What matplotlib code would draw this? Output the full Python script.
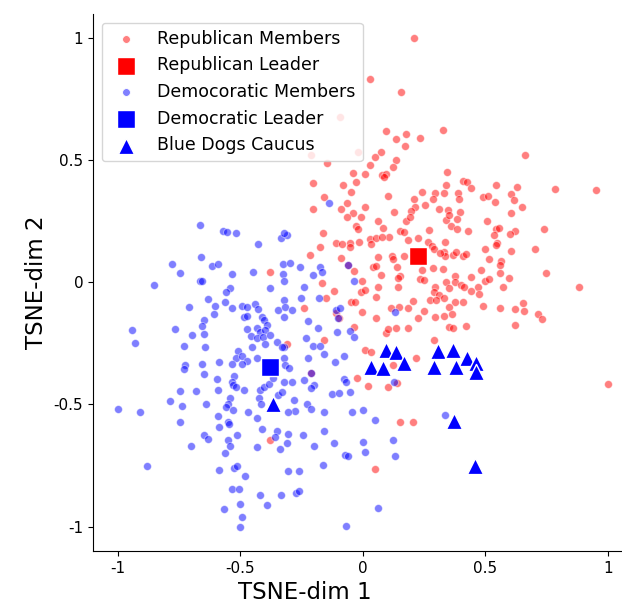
import matplotlib
matplotlib.use("Agg")
import matplotlib.pyplot as plt
import numpy as np

rep_pts = [
    (0.21,1.0),(0.03,0.83),(0.156,0.777),(-0.094,0.675),(0.094,0.618),(0.176,0.605),(0.135,0.585),(0.234,0.589),
    (0.328,0.622),(0.172,0.556),(0.074,0.53),(-0.02,0.53),(-0.21,0.52),(0.664,0.52),
    (0.049,0.511),(0.135,0.499),(-0.148,0.487),(0.029,0.478),(0.123,0.47),(0.344,0.45),(-0.041,0.446),(0.008,0.442),
    (0.078,0.438),(0.094,0.442),(0.086,0.43),(-0.205,0.405),(-0.082,0.397),(-0.029,0.409),(0.34,0.397),(-0.049,0.368),
    (-0.16,0.348),(0.102,0.352),(0.242,0.368),(0.295,0.364),(0.332,0.364),(-0.066,0.323),(-0.09,0.299),(-0.205,0.299),
    (0.008,0.307),(0.209,0.34),(0.287,0.34),(0.213,0.307),(0.197,0.29),(0.254,0.315),(0.311,0.299),(0.348,0.294),
    (-0.041,0.282),(-0.066,0.266),(-0.008,0.266),(0.127,0.286),(0.061,0.25),(0.176,0.25),(0.193,0.266),(0.34,0.254),
    (-0.029,0.229),(-0.02,0.217),(0.082,0.221),(0.27,0.213),(-0.164,0.2),(0.152,0.209),(0.168,0.205),(0.107,0.184),
    (0.225,0.18),(0.184,0.172),(0.336,0.164),(0.266,0.164),(0.029,0.176),(0.053,0.18),(0.078,0.184),(-0.016,0.164),
    (-0.111,0.16),(-0.086,0.155),(-0.053,0.16),(-0.053,0.143),(0.033,0.155),(-0.176,0.143),(0.283,0.147),(0.291,0.135),
    (0.332,0.123),(0.336,0.106),(0.316,0.119),(0.168,0.106),(0.119,0.106),(0.123,0.094),(0.061,0.102),(-0.217,0.11),
    (-0.09,0.098),(0.139,0.061),(0.041,0.061),(0.053,0.065),(-0.037,0.045),(0.074,0.029),(0.242,0.049),(0.287,0.057),
    (0.328,0.053),(0.152,0.025),(0.143,0.016),(0.234,0.012),(0.25,0.008),(-0.004,0.004),(-0.168,-0.004),(0.061,-0.02),
    (0.143,-0.02),(0.295,-0.02),(0.34,0.0),(-0.061,0.07),
    (0.41,0.413),(0.426,0.409),(0.443,0.384),(0.545,0.397),(0.631,0.389),(0.783,0.38),(0.951,0.376),(0.389,0.364),
    (0.393,0.34),(0.492,0.348),(0.512,0.352),(0.541,0.327),(0.607,0.36),(0.619,0.335),(0.648,0.307),(0.607,0.282),
    (0.398,0.286),(0.352,0.274),(0.361,0.229),(0.385,0.258),(0.508,0.25),(0.385,0.217),(0.43,0.209),(0.545,0.217),
    (0.557,0.221),(0.537,0.192),(0.623,0.209),(0.602,0.196),(0.738,0.217),(0.549,0.16),(0.545,0.151),(0.705,0.135),
    (0.5,0.135),(0.607,0.127),(0.369,0.11),(0.381,0.123),(0.41,0.106),(0.422,0.115),(0.516,0.094),(0.566,0.086),
    (0.561,0.07),(0.484,0.049),(0.561,0.037),(0.746,0.037),(0.598,0.016),(0.443,0.02),(0.377,0.025),(0.377,0.0),
    (0.5,0.004),(0.516,0.012),(0.402,-0.012),(0.414,-0.02),(0.471,-0.02),(0.574,-0.02),(0.881,-0.02),
    (0.352,-0.025),(0.443,-0.037),(0.475,-0.049),(0.377,-0.082),(0.41,-0.082),(0.492,-0.098),(0.561,-0.106),
    (0.656,-0.086),(0.66,-0.119),(0.623,-0.11),(0.717,-0.131),(0.73,-0.151),(0.352,-0.102),(0.365,-0.131),
    (0.352,-0.184),(0.369,-0.188),(0.422,-0.18),(0.623,-0.176),(1.0,-0.417),
    (-0.119,-0.037),(-0.008,-0.041),(0.008,-0.033),(0.053,-0.061),(-0.152,-0.065),(-0.049,-0.082),(-0.033,-0.082),
    (-0.242,-0.106),(-0.004,-0.123),(0.115,-0.106),(0.148,-0.102),(0.184,-0.106),(0.205,-0.078),(0.291,-0.041),
    (0.311,-0.053),(0.275,-0.074),(0.299,-0.074),(0.332,-0.065),(0.25,-0.119),(0.225,-0.147),(0.295,-0.143),
    (0.332,-0.139),(0.053,-0.147),(-0.111,-0.127),(-0.098,-0.147),(-0.037,-0.184),(0.094,-0.209),(0.102,-0.192),
    (0.135,-0.188),(0.184,-0.188),(0.291,-0.237),(-0.16,-0.237),(-0.311,-0.254),(0.008,-0.278),(0.033,-0.286),
    (0.217,-0.311),(0.123,-0.339),(-0.025,-0.393),(0.02,-0.425),(0.102,-0.429),(0.139,-0.413),(0.152,-0.573),
    (0.205,-0.573),(-0.213,-0.372),(-0.381,0.041),(-0.381,-0.646),(0.049,-0.765),
]
rep_x = [p[0] for p in rep_pts]
rep_y = [p[1] for p in rep_pts]

dem_pts = [
    (-0.139,0.323),(-0.336,0.18),(-0.311,0.192),(-0.324,0.2),(-0.328,0.074),(-0.299,0.078),(-0.258,0.061),
    (-0.176,0.061),(-0.168,0.041),(-0.205,0.029),(-0.061,0.07),(-0.328,0.033),(-0.324,0.004),(-0.242,-0.02),(-0.037,0.004),
    (-0.664,0.233),(-0.57,0.209),(-0.553,0.205),(-0.52,0.2),(-0.43,0.155),(-0.779,0.074),(-0.66,0.102),(-0.615,0.065),
    (-0.59,0.074),(-0.746,0.037),(-0.533,0.033),(-0.447,0.041),(-0.664,0.004),(-0.656,0.004),
    (-0.852,-0.012),(-0.541,-0.025),(-0.557,-0.041),(-0.381,-0.025),(-0.631,-0.07),(-0.709,-0.102),(-0.602,-0.098),
    (-0.607,-0.131),(-0.561,-0.082),(-0.533,-0.106),(-0.492,-0.098),(-0.475,-0.102),(-0.439,-0.09),(-0.43,-0.11),
    (-0.484,-0.143),(-0.475,-0.139),(-0.41,-0.143),(-0.402,-0.155),(-0.393,-0.176),(-0.648,-0.155),(-0.656,-0.18),
    (-0.648,-0.213),(-0.943,-0.196),(-0.766,-0.192),(-0.475,-0.192),(-0.434,-0.188),(-0.418,-0.205),(-0.398,-0.196),
    (-0.697,-0.217),(-0.455,-0.221),(-0.434,-0.229),(-0.406,-0.225),(-0.381,-0.217),(-0.93,-0.249),(-0.73,-0.262),
    (-0.643,-0.266),(-0.451,-0.266),(-0.398,-0.254),(-0.508,-0.282),(-0.434,-0.311),(-0.516,-0.311),(-0.492,-0.303),
    (-0.475,-0.323),(-0.492,-0.335),(-0.586,-0.327),(-0.533,-0.335),(-0.656,-0.335),(-0.725,-0.339),(-0.73,-0.356),
    (-0.648,-0.376),(-0.525,-0.384),(-0.594,-0.397),(-0.533,-0.409),(-0.529,-0.421),(-0.746,-0.446),(-0.68,-0.446),
    (-0.59,-0.442),(-0.516,-0.429),(-0.484,-0.442),(-0.418,-0.442),(-0.402,-0.429),(-0.385,-0.417),(-0.787,-0.487),
    (-0.639,-0.499),(-0.541,-0.474),(-0.549,-0.499),(-0.557,-0.511),(-0.738,-0.507),(-0.426,-0.474),(-0.414,-0.499),
    (-1.0,-0.519),(-0.91,-0.532),(-0.529,-0.524),(-0.467,-0.532),(-0.59,-0.548),(-0.434,-0.556),(-0.746,-0.573),
    (-0.549,-0.573),
    (-0.324,-0.074),(-0.254,-0.065),(-0.18,-0.065),(-0.348,-0.115),(-0.316,-0.102),(-0.291,-0.115),(-0.32,-0.143),
    (-0.111,-0.115),(-0.094,-0.106),(-0.102,-0.147),(-0.225,-0.16),(0.131,-0.123),(-0.184,-0.188),(-0.053,-0.2),
    (-0.037,-0.225),(-0.352,-0.245),(-0.324,-0.266),(-0.332,-0.266),(-0.234,-0.229),(-0.205,-0.262),(-0.176,-0.262),
    (-0.107,-0.205),(-0.16,-0.294),(-0.225,-0.311),(-0.078,-0.303),(-0.115,-0.327),(-0.324,-0.311),(-0.316,-0.339),
    (-0.303,-0.352),(-0.377,-0.368),(-0.365,-0.393),(-0.324,-0.409),(-0.291,-0.409),(-0.213,-0.372),(-0.242,-0.401),
    (-0.078,-0.397),(-0.07,-0.409),(-0.201,-0.421),(-0.213,-0.434),(-0.053,-0.45),(-0.127,-0.458),(-0.098,-0.454),
    (0.127,-0.409),(-0.283,-0.483),(-0.348,-0.462),(-0.332,-0.45),(-0.23,-0.499),(-0.213,-0.519),(-0.279,-0.528),
    (-0.307,-0.532),(-0.16,-0.532),(-0.045,-0.532),(0.0,-0.524),(0.049,-0.564),(0.336,-0.544),
    (-0.586,-0.593),(-0.545,-0.581),(-0.41,-0.601),(-0.648,-0.626),(-0.631,-0.642),(-0.512,-0.626),(-0.549,-0.646),
    (-0.541,-0.671),(-0.701,-0.671),(-0.434,-0.675),(-0.561,-0.699),(-0.881,-0.753),(-0.586,-0.769),(-0.525,-0.761),
    (-0.512,-0.753),(-0.48,-0.793),(-0.533,-0.847),(-0.504,-0.847),(-0.422,-0.871),(-0.393,-0.912),(-0.5,-0.908),
    (-0.566,-0.928),(-0.492,-0.961),(-0.5,-1.002),
    (-0.352,-0.609),(-0.357,-0.634),(-0.307,-0.622),(-0.311,-0.658),(-0.34,-0.683),(-0.246,-0.626),(-0.16,-0.609),
    (-0.201,-0.671),(-0.119,-0.658),(0.0,-0.654),(0.008,-0.695),(0.123,-0.646),(0.131,-0.712),(-0.074,-0.708),
    (-0.061,-0.712),(-0.164,-0.748),(-0.307,-0.773),(-0.262,-0.773),(-0.336,-0.871),(-0.275,-0.863),(-0.262,-0.855),
    (0.061,-0.924),(-0.07,-0.998),
]
dem_x = [p[0] for p in dem_pts]
dem_y = [p[1] for p in dem_pts]

bluedog_x = [0.094, 0.135, 0.168, 0.033, 0.082, 0.307, 0.369, 0.426, 0.291, 0.381, 0.463, 0.463, -0.365, 0.373, 0.459]
bluedog_y = [-0.278, -0.286, -0.331, -0.348, -0.352, -0.282, -0.278, -0.311, -0.348, -0.348, -0.331, -0.368, -0.499, -0.569, -0.753]

rep_leader = (0.225, 0.106)
dem_leader = (-0.381, -0.348)

tick_vals = [-1, -0.5, 0, 0.5, 1]
tick_labels = ["-1", "-0.5", "0", "0.5", "1"]

fig = plt.figure(figsize=(6.22, 6.11), dpi=100)
ax = fig.add_axes([0.1495, 0.098, 0.85, 0.879])

ax.scatter(rep_x, rep_y, s=32, c="red", alpha=0.5, edgecolors="white", linewidths=0.6, label="Republican Members", zorder=2)
ax.scatter([rep_leader[0]], [rep_leader[1]], s=170, marker="s", c="red", edgecolors="white", linewidths=1.0, label="Republican Leader", zorder=4)
ax.scatter(dem_x, dem_y, s=32, c="blue", alpha=0.5, edgecolors="white", linewidths=0.6, label="Democoratic Members", zorder=3)
ax.scatter([dem_leader[0]], [dem_leader[1]], s=170, marker="s", c="blue", edgecolors="white", linewidths=1.0, label="Democratic Leader", zorder=4)
ax.scatter(bluedog_x, bluedog_y, s=135, marker="^", c="blue", edgecolors="white", linewidths=1.0, label="Blue Dogs Caucus", zorder=5)

ax.set_xlim(-1.102, 1.057)
ax.set_ylim(-1.10, 1.096)
ax.set_xticks(tick_vals)
ax.set_xticklabels(tick_labels)
ax.set_yticks(tick_vals)
ax.set_yticklabels(tick_labels)
ax.tick_params(labelsize=11)
ax.spines["top"].set_visible(False)
ax.spines["right"].set_visible(False)
ax.set_xlabel("TSNE-dim 1", fontsize=16.5)
ax.xaxis.label.set_x(0.40)
ax.set_ylabel("TSNE-dim 2", fontsize=16.5)

leg = ax.legend(loc="upper left", fontsize=12.5, frameon=True)
handles = leg.legend_handles
for h in handles:
    h.set_alpha(None)
handles[0].set_facecolor((1, 0.5, 0.5))
handles[2].set_facecolor((0.5, 0.5, 1))

fig.savefig("out.png", dpi=100)
